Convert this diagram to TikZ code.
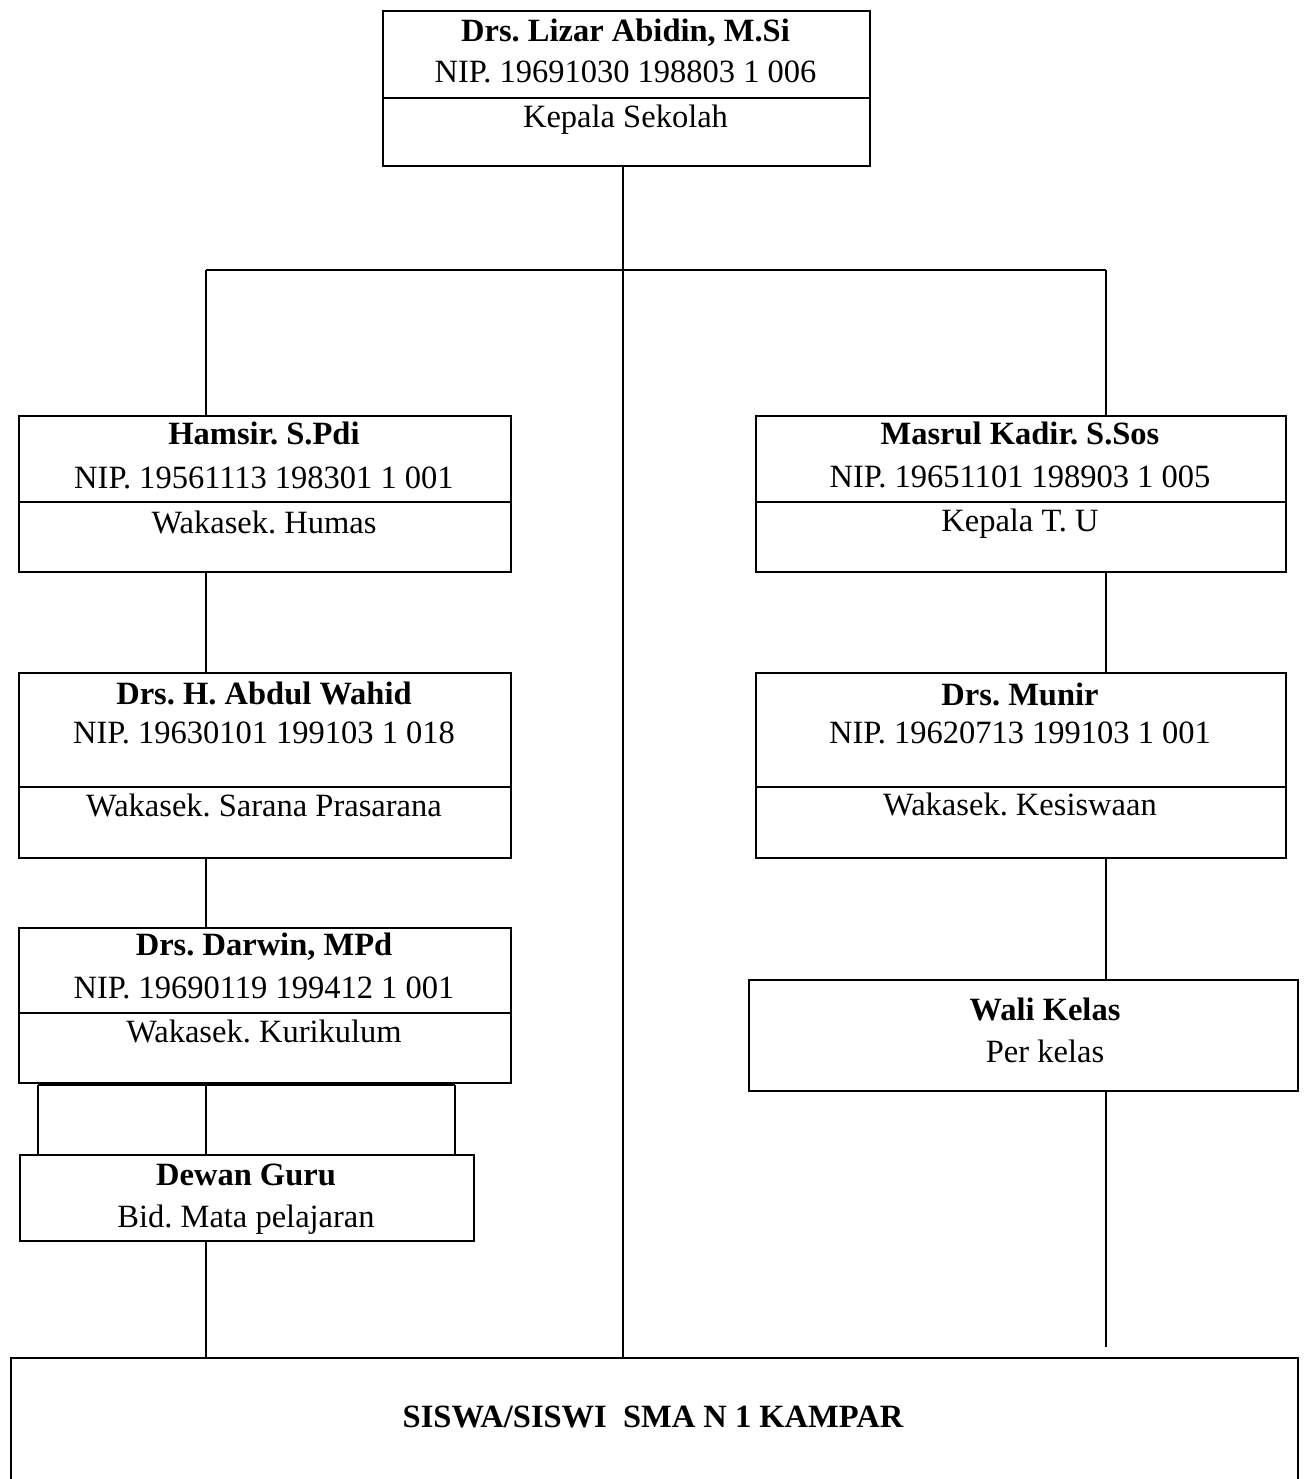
\documentclass[tikz,border=0pt]{standalone}
\usepackage{fontspec}
\setmainfont{Liberation Serif}
\usetikzlibrary{positioning}
\frenchspacing
\tikzset{
  kotak/.style 2 args={draw, line width=1pt, anchor=north west, inner sep=0pt,
    minimum width=#1*0.02cm, minimum height=#2*0.02cm},
  teks/.style={anchor=base, inner sep=0pt, font=\fontsize{18.5}{21}\selectfont},
  tebal/.style={teks, font=\fontsize{18.5}{21}\selectfont\bfseries},
  garis/.style={line width=1pt},
}
\begin{document}
\begin{tikzpicture}[x=0.02cm,y=-0.02cm]
\useasboundingbox (0,0) rectangle (1304,1479);
% kepala sekolah
\node[kotak={487}{87}] (kepala) at (382,10) {};
\node[kotak={487}{68}] (kepalaj) at (382,97) {};
\node[tebal] (kepala-n) at (625.5,42) {Drs. Lizar Abidin, M.Si};
\node[teks] (kepala-p) at (625.5,83) {NIP. 19691030 198803 1 006};
\node[teks] (kepala-j) at (625.5,128) {Kepala Sekolah};
% kolom kiri
\node[kotak={492}{86}] (hamsir) at (18,415) {};
\node[kotak={492}{70}] (hamsirj) at (18,501) {};
\node[tebal] (hamsir-n) at (264,445) {Hamsir. S.Pdi};
\node[teks] (hamsir-p) at (264,488) {NIP. 19561113 198301 1 001};
\node[teks] (hamsir-j) at (264,533) {Wakasek. Humas};
\node[kotak={492}{114}] (wahid) at (18,672) {};
\node[kotak={492}{71}] (wahidj) at (18,786) {};
\node[tebal] (wahid-n) at (264,704) {Drs. H. Abdul Wahid};
\node[teks] (wahid-p) at (264,743) {NIP. 19630101 199103 1 018};
\node[teks] (wahid-j) at (264,816) {Wakasek. Sarana Prasarana};
\node[kotak={492}{85}] (darwin) at (18,927) {};
\node[kotak={492}{70}] (darwinj) at (18,1012) {};
\node[tebal] (darwin-n) at (264,955) {Drs. Darwin, MPd};
\node[teks] (darwin-p) at (264,998) {NIP. 19690119 199412 1 001};
\node[teks] (darwin-j) at (264,1042) {Wakasek. Kurikulum};
\node[kotak={454}{86}] (dewan) at (19,1154) {};
\node[tebal] (dewan-n) at (246,1185) {Dewan Guru};
\node[teks] (dewan-j) at (246,1227) {Bid. Mata pelajaran};
% kolom kanan
\node[kotak={530}{86}] (masrul) at (755,415) {};
\node[kotak={530}{70}] (masrulj) at (755,501) {};
\node[tebal] (masrul-n) at (1020,445) {Masrul Kadir. S.Sos};
\node[teks] (masrul-p) at (1020,487) {NIP. 19651101 198903 1 005};
\node[teks] (masrul-j) at (1020,531) {Kepala T. U};
\node[kotak={530}{114}] (munir) at (755,672) {};
\node[kotak={530}{71}] (munirj) at (755,786) {};
\node[tebal] (munir-n) at (1020,705) {Drs. Munir};
\node[teks] (munir-p) at (1020,743) {NIP. 19620713 199103 1 001};
\node[teks] (munir-j) at (1020,815) {Wakasek. Kesiswaan};
\node[kotak={549}{111}] (wali) at (748,979) {};
\node[tebal] (wali-n) at (1045,1020) {Wali Kelas};
\node[teks] (wali-j) at (1045,1062) {Per kelas};
% siswa
\node[kotak={1287}{140}] (siswa) at (10,1357) {};
\node[tebal] (siswa-n) at (653,1427) {SISWA/SISWI~ SMA N 1 KAMPAR};
% garis
\coordinate (batang) at (623,165);
\coordinate (cabang-kiri) at (206,270);
\coordinate (cabang-kanan) at (1106,270);
\coordinate (guru-kiri) at (38,1085);
\coordinate (guru-kanan) at (455,1085);
\coordinate (wali-ujung) at (1106,1347);
\draw[garis] (batang) -- (batang |- siswa.north);
\draw[garis] (cabang-kiri) -- (cabang-kanan);
\draw[garis] (cabang-kiri) -- (cabang-kiri |- hamsir.north);
\draw[garis] (cabang-kanan) -- (cabang-kanan |- masrul.north);
\draw[garis] (cabang-kiri |- hamsirj.south) -- (cabang-kiri |- wahid.north);
\draw[garis] (cabang-kiri |- wahidj.south) -- (cabang-kiri |- darwin.north);
\draw[garis] (guru-kiri) -- (guru-kanan);
\draw[garis] (guru-kiri) -- (guru-kiri |- dewan.north);
\draw[garis] (guru-kanan) -- (guru-kanan |- dewan.north);
\draw[garis] (cabang-kiri |- guru-kiri) -- (cabang-kiri |- dewan.north);
\draw[garis] (cabang-kiri |- dewan.south) -- (cabang-kiri |- siswa.north);
\draw[garis] (cabang-kanan |- masrulj.south) -- (cabang-kanan |- munir.north);
\draw[garis] (cabang-kanan |- munirj.south) -- (cabang-kanan |- wali.north);
\draw[garis] (cabang-kanan |- wali.south) -- (wali-ujung);
\end{tikzpicture}
\end{document}
